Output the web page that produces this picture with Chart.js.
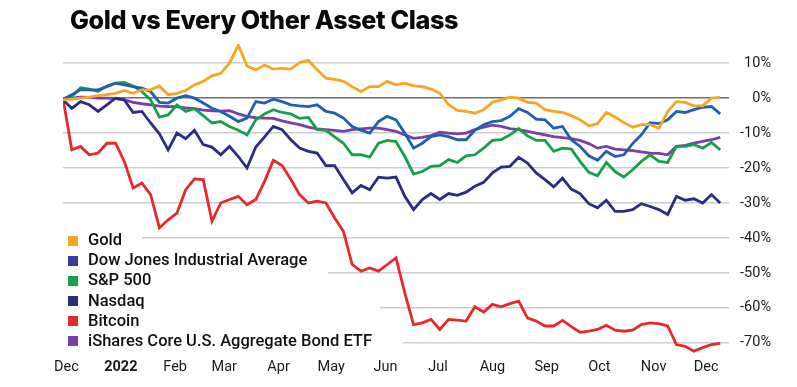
<!DOCTYPE html>
<html lang="en">
<head>
  <meta charset="UTF-8">
  <title>Gold vs Every Other Asset Class</title>
  <script src="https://cdn.jsdelivr.net/npm/chart.js"></script>
  <style>
    body {
      margin: 0;
      background: #fff;
    }

    .wrap {
      position: relative;
      width: 797px;
      height: 387px;
    }

    .title {
      position: absolute;
      left: 70px;
      top: 8px;
      font-family: 'Inter', sans-serif;
      font-weight: 800;
      font-size: 25.2px;
      letter-spacing: -0.4px;
      line-height: 1;
      color: #0a0a0a;
    }

    .legend {
      position: absolute;
      left: 68px;
      top: 230px;
      font-family: 'Roboto', sans-serif;
      font-weight: 500;
      font-size: 16.5px;
      color: #111;
    }

    .legend div {
      height: 20.2px;
      line-height: 20.2px;
      white-space: nowrap;
    }

    .legend span {
      display: inline-block;
      width: 10px;
      height: 10px;
      margin-right: 10px;
      vertical-align: -0.5px;
    }
  </style>
</head>
<body>
  <div class="wrap">
    <canvas id="chart" width="797" height="387"></canvas>
    <div class="title">Gold vs Every Other Asset Class</div>
    <div class="legend" id="legend"></div>
  </div>

  <script>
    // days counted from 1 Dec 2021, one reading every 5 days
    const days = [-2, 3, 8, 13, 18, 23, 28, 33, 38, 43, 48, 53, 58, 63, 68, 73, 78, 83, 88, 93,
      98, 103, 108, 113, 118, 123, 128, 133, 138, 143, 148, 153, 158, 163, 168, 173, 178, 183, 188, 193,
      198, 203, 208, 213, 218, 223, 228, 233, 238, 243, 248, 253, 258, 263, 268, 273, 278, 283, 288, 293,
      298, 303, 308, 313, 318, 323, 328, 333, 338, 343, 348, 353, 358, 363, 368, 373];

    // % change since start
    const gold = [-0.5, -0.3, 0, 0.3, 0.7, 1.0, 1.4, 2.2, 1.4, 2.4, 2.4, 3.5, 1.0, 1.4, 2.2, 3.8, 4.8, 6.4, 7.1, 10,
      15.2, 9.2, 8.1, 9.5, 8.3, 8.5, 8.3, 10.2, 10.8, 8.1, 5.7, 5.4, 4.8, 3.3, 1.9, 3.3, 3.3, 4.8, 3.8, 4.3,
      3.5, 3.3, 2.6, 1.4, -1.9, -3.5, -3.8, -4.3, -3.3, -1.2, -0.5, 0.3, 0, -1.2, -1.4, -3.3, -3.8, -4.1, -5.0, -6.2,
      -7.9, -7.3, -4.1, -5.4, -7.0, -8.3, -7.6, -7.6, -8.6, -3.8, -1.0, -1.2, -2.2, -2.2, 0, 0.2];
    const dowJones = [-0.3, 1.0, 2.4, 2.4, 2.4, 3.3, 4.3, 3.8, 3.3, 2.9, 1.9, -1.2, -1.4, 0, 0.7, 0, -1.4, -2.9, -3.8, -5.2,
      -6.7, -5.7, -1.0, -1.4, -0.3, -1.0, -1.9, -2.2, -2.4, -1.9, -3.8, -4.3, -5.7, -8.1, -9.2, -10.0, -6.7, -5.2, -6.2, -10.0,
      -14.3, -12.9, -11.0, -10.5, -11.0, -11.9, -11.9, -9.2, -7.6, -6.7, -6.4, -5.2, -3.0, -4.1, -6.0, -6.2, -8.6, -8.1, -11.9, -13.8,
      -16.5, -17.8, -15.2, -16.7, -16.2, -13.0, -10.5, -7.0, -7.3, -6.2, -3.8, -4.1, -3.3, -2.6, -2.4, -4.5];
    const sp500 = [-0.3, 0.5, 3.0, 2.6, 1.9, 3.5, 4.3, 4.5, 3.5, 1.9, -0.5, -5.4, -4.8, -1.9, -3.8, -3.0, -5.0, -7.1, -6.7, -8.1,
      -9.2, -10.5, -6.2, -4.5, -3.3, -4.1, -4.5, -5.8, -5.5, -9.0, -9.2, -11.1, -12.9, -16.2, -16.2, -16.9, -12.9, -12.1, -12.4, -16.7,
      -21.7, -21.0, -19.5, -19.3, -17.6, -18.4, -16.5, -16.2, -14.3, -12.1, -11.9, -10.5, -8.7, -10.8, -12.1, -12.1, -15.2, -14.3, -14.6, -18.1,
      -21.2, -22.2, -18.4, -21.0, -22.6, -20.5, -18.1, -16.2, -18.1, -18.4, -13.8, -13.8, -13.3, -14.3, -12.7, -14.8];
    const nasdaq = [-0.5, -2.9, -1.0, -1.9, -3.8, -1.9, 0, -0.5, -4.1, -3.8, -7.1, -10.2, -14.8, -10.0, -11.6, -9.2, -13.3, -14.0, -16.2, -13.8,
      -16.7, -20.0, -14.0, -11.1, -8.1, -9.0, -11.9, -14.3, -15.2, -15.7, -19.3, -19.3, -23.3, -27.1, -25.0, -26.2, -22.6, -22.9, -22.6, -28.1,
      -31.9, -29.0, -27.3, -29.0, -27.3, -27.8, -26.9, -25.2, -24.1, -21.4, -19.7, -19.5, -16.9, -18.6, -21.4, -23.3, -25.4, -22.9, -26.0, -27.3,
      -30.2, -31.4, -29.2, -32.4, -32.4, -31.9, -30.2, -31.0, -31.9, -33.3, -28.1, -29.2, -28.8, -30.0, -27.6, -30.0];
    const bitcoin = [0, -14.8, -13.8, -16.2, -15.7, -12.9, -12.9, -18.1, -25.7, -24.3, -27.6, -37.1, -34.8, -32.9, -26.2, -23.1, -23.3, -35.2, -30.0, -29.0,
      -28.1, -30.5, -29.0, -23.8, -17.8, -19.3, -23.3, -27.6, -30.0, -29.5, -30.0, -34.3, -38.1, -47.6, -49.5, -48.6, -49.5, -47.6, -45.7, -55.7,
      -64.8, -64.3, -63.3, -66.2, -63.3, -63.5, -63.8, -59.7, -61.2, -59.0, -59.7, -58.8, -58.1, -62.9, -63.8, -65.2, -65.2, -63.6, -65.4, -67.0,
      -66.7, -66.2, -65.0, -66.4, -66.7, -66.4, -64.8, -64.3, -64.5, -65.2, -70.5, -71.0, -72.4, -71.4, -70.5, -70.2];
    const bondEtf = [-0.3, 0, 0.3, 0.2, 0, 0, -0.1, -0.5, -1.2, -1.6, -1.9, -2.3, -2.4, -2.4, -2.8, -3.0, -3.4, -3.6, -3.7, -3.6,
      -4.5, -5.2, -5.6, -5.7, -5.8, -6.5, -7.1, -7.6, -8.3, -8.8, -9.0, -9.2, -9.5, -9.0, -8.8, -8.6, -8.6, -9.0, -9.5, -10.5,
      -11.5, -11.2, -10.7, -9.7, -10.0, -10.2, -10.0, -9.0, -8.3, -7.7, -8.1, -8.7, -9.0, -9.5, -10.0, -10.5, -11.0, -11.3, -11.6, -12.1,
      -13.0, -14.3, -13.8, -14.6, -14.8, -15.0, -15.4, -15.7, -15.8, -16.2, -13.8, -13.5, -12.9, -12.4, -11.9, -11.2];

    const seriesNames = ['Gold', 'Dow Jones Industrial Average', 'S&P 500', 'Nasdaq', 'Bitcoin', 'iShares Core U.S. Aggregate Bond ETF'];

    // axis ticks
    const monthDays = [0, 31, 62, 90, 121, 151, 182, 212, 243, 274, 304, 335, 365];
    const monthLabels = ['Dec', '2022', 'Feb', 'Mar', 'Apr', 'May', 'Jun', 'Jul', 'Aug', 'Sep', 'Oct', 'Nov', 'Dec'];
    const yTicks = [10, 0, -10, -20, -30, -40, -50, -60, -70];

    const lineColors = ['#f6a623', '#1f60b0', '#17a04b', '#2c2b85', '#e8282b', '#7b3fa5'];
    const legendColors = ['#f6a623', '#3b3a9e', '#17a04b', '#2a2c7e', '#e8282b', '#7b3fa5'];

    const allSeries = [gold, dowJones, sp500, nasdaq, bitcoin, bondEtf];

    const datasets = allSeries.map((vals, i) => ({
      label: seriesNames[i],
      data: vals.map((v, j) => ({ x: days[j], y: v })),
      borderColor: lineColors[i],
      borderWidth: 2.8,
      pointRadius: 0,
      tension: 0,
      fill: false
    }));

    // gridlines are cut short where the legend sits
    const gridMask = {
      id: 'gridMask',
      beforeDatasetsDraw(chart) {
        const { ctx, chartArea, scales } = chart;
        const cuts = [[-40, 142], [-50, 328], [-60, 380], [-70, 403]];
        ctx.save();
        ctx.fillStyle = '#fff';
        cuts.forEach(([v, xEnd]) => {
          const y = scales.y.getPixelForValue(v);
          ctx.fillRect(chartArea.left - 1, y - 2, xEnd - chartArea.left + 1, 4);
        });
        ctx.restore();
      }
    };

    new Chart(document.getElementById('chart'), {
      type: 'line',
      data: { datasets },
      plugins: [gridMask],
      options: {
        responsive: false,
        animation: false,
        devicePixelRatio: 1,
        layout: { padding: { left: 63, top: 44, right: 26, bottom: 0 } },
        plugins: {
          legend: { display: false },
          tooltip: { enabled: false }
        },
        scales: {
          x: {
            type: 'linear',
            min: -2,
            max: 378,
            grid: { display: false, drawTicks: false },
            border: { display: false },
            afterBuildTicks: s => { s.ticks = monthDays.map(v => ({ value: v })); },
            afterFit: s => { s.height = 32; },
            ticks: {
              autoSkip: false,
              maxRotation: 0,
              padding: 4,
              color: '#1a1a1a',
              font: c => ({ family: 'Roboto', size: 14.5, weight: c.index === 1 ? 'bold' : 'normal' }),
              callback: (v, i) => monthLabels[i]
            }
          },
          y: {
            position: 'right',
            min: -73.5,
            max: 15.5,
            afterBuildTicks: s => { s.ticks = yTicks.map(v => ({ value: v })); },
            afterFit: s => { s.width = 42; },
            grid: {
              color: c => c.tick && c.tick.value === 0 ? '#6f6f6f' : '#cdcdcd',
              lineWidth: 1.5,
              drawTicks: false
            },
            border: { display: false },
            ticks: {
              crossAlign: 'far',
              padding: 0,
              color: '#1a1a1a',
              font: { family: 'Roboto', size: 14.5 },
              callback: v => v + '%'
            }
          }
        }
      }
    });

    // legend
    const legend = document.getElementById('legend');
    seriesNames.forEach((name, i) => {
      const row = document.createElement('div');
      const box = document.createElement('span');
      box.style.background = legendColors[i];
      row.appendChild(box);
      row.appendChild(document.createTextNode(name));
      legend.appendChild(row);
    });
  </script>
</body>
</html>
